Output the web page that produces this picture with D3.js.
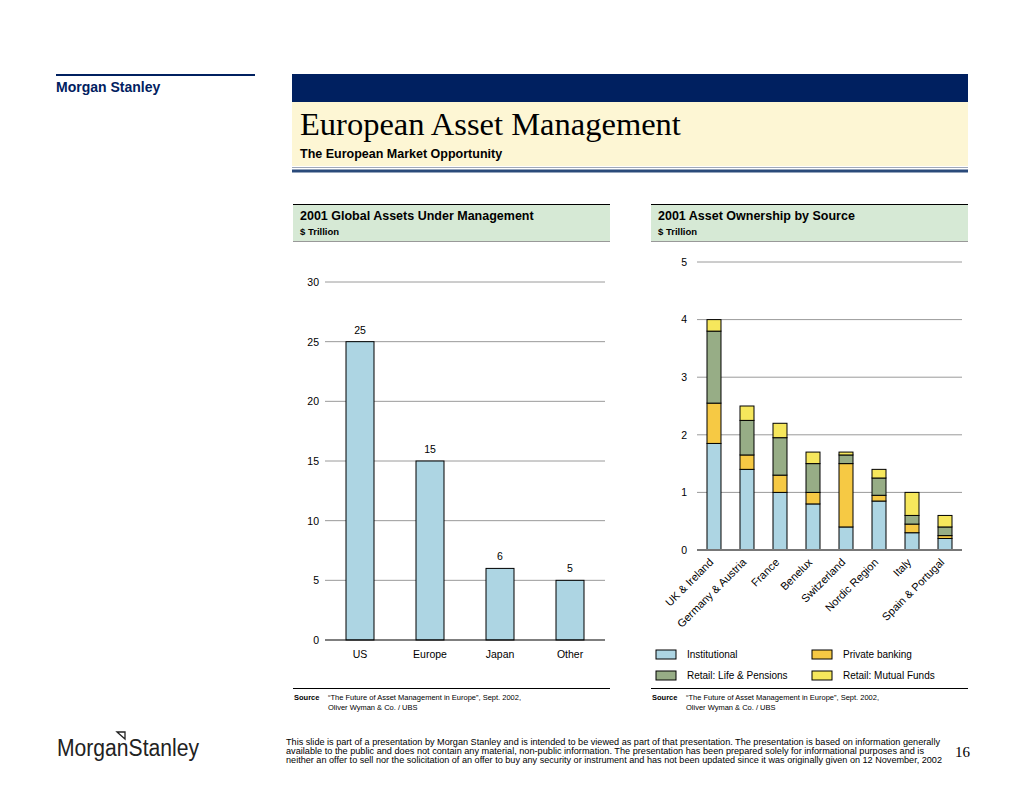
<!DOCTYPE html>
<html>
<head>
<meta charset="utf-8">
<script src="https://cdn.jsdelivr.net/npm/d3@7"></script>
<style>
  body { margin: 0; background: #fff; }
  text { font-family: "Liberation Sans", Arial, sans-serif; }
</style>
</head>
<body>
<div id="viz"></div>
<script>
// left chart data
var regions = ["US", "Europe", "Japan", "Other"];
var aum = [25, 15, 6, 5];
var leftTicks = [0, 5, 10, 15, 20, 25, 30];

// right chart data
var countries = ["UK & Ireland", "Germany & Austria", "France", "Benelux",
                 "Switzerland", "Nordic Region", "Italy", "Spain & Portugal"];
var sources = ["Institutional", "Private banking", "Retail: Life & Pensions", "Retail: Mutual Funds"];
var institutional = [1.85, 1.4, 1.0, 0.8, 0.4, 0.85, 0.3, 0.2];
var privateBanking = [0.7, 0.25, 0.3, 0.2, 1.1, 0.1, 0.15, 0.05];
var lifePensions = [1.25, 0.6, 0.65, 0.5, 0.15, 0.3, 0.15, 0.15];
var mutualFunds = [0.2, 0.25, 0.25, 0.2, 0.05, 0.15, 0.4, 0.2];
var rightTicks = [0, 1, 2, 3, 4, 5];

var navy = "#002060";
var colors = {
    "Institutional": "#add5e3",
    "Private banking": "#f6c944",
    "Retail: Life & Pensions": "#97ad86",
    "Retail: Mutual Funds": "#f6e75c"
};

var SVG = d3.select("#viz").append("svg")
        .attr("width", 1024)
        .attr("height", 791);

// ---- page furniture ----
SVG.append("line").attr("x1", 56).attr("x2", 255).attr("y1", 75).attr("y2", 75)
    .style("stroke", navy).style("stroke-width", 2);
SVG.append("text").attr("x", 56).attr("y", 92).text("Morgan Stanley")
    .style("font-weight", "bold").style("font-size", "14px").style("fill", navy);

SVG.append("rect").attr("x", 292).attr("y", 74).attr("width", 676).attr("height", 28)
    .style("fill", navy);
SVG.append("rect").attr("x", 292).attr("y", 102).attr("width", 676).attr("height", 64)
    .style("fill", "#fdf6d4");
SVG.append("text").attr("x", 300).attr("y", 135).text("European Asset Management")
    .style("font-family", "'Liberation Serif', 'Times New Roman', serif")
    .style("font-size", "32.5px").style("fill", "#000");
SVG.append("text").attr("x", 300).attr("y", 158).text("The European Market Opportunity")
    .style("font-weight", "bold").style("font-size", "12.5px");
SVG.append("line").attr("x1", 292).attr("x2", 968).attr("y1", 167.5).attr("y2", 167.5)
    .style("stroke", "#a0a8b8").style("stroke-width", 1);
SVG.append("line").attr("x1", 292).attr("x2", 968).attr("y1", 171).attr("y2", 171)
    .style("stroke", "#2a4a7a").style("stroke-width", 3);

function panelHeader(x, title) {
    SVG.append("rect").attr("x", x).attr("y", 205).attr("width", 317).attr("height", 36)
        .style("fill", "#d6e9d5");
    SVG.append("line").attr("x1", x).attr("x2", x + 317).attr("y1", 204.5).attr("y2", 204.5)
        .style("stroke", "#000").style("stroke-width", 1);
    SVG.append("line").attr("x1", x).attr("x2", x + 317).attr("y1", 241.5).attr("y2", 241.5)
        .style("stroke", "#999").style("stroke-width", 1);
    SVG.append("text").attr("x", x + 7).attr("y", 220).text(title)
        .style("font-weight", "bold").style("font-size", "12.5px");
    SVG.append("text").attr("x", x + 7).attr("y", 235).text("$ Trillion")
        .style("font-weight", "bold").style("font-size", "9.5px");
}
panelHeader(293, "2001 Global Assets Under Management");
panelHeader(651, "2001 Asset Ownership by Source");

function sourceNote(x) {
    SVG.append("line").attr("x1", x).attr("x2", x + 317).attr("y1", 688.5).attr("y2", 688.5)
        .style("stroke", "#000").style("stroke-width", 1);
    SVG.append("text").attr("x", x + 1).attr("y", 700).text("Source")
        .style("font-weight", "bold").style("font-size", "7.5px");
    SVG.append("text").attr("x", x + 35).attr("y", 700)
        .text("\u201CThe Future of Asset Management in Europe\u201D, Sept. 2002,")
        .style("font-size", "7.5px");
    SVG.append("text").attr("x", x + 35).attr("y", 710).text("Oliver Wyman & Co. / UBS")
        .style("font-size", "7.5px");
}
sourceNote(293);
sourceNote(651);

// ---- left chart ----
var xLeft = d3.scaleBand().domain(regions).range([325, 605])
        .paddingInner(0.6).paddingOuter(0.3);
var yLeft = d3.scaleLinear().domain([0, 30]).range([640, 282]);

SVG.append("g").selectAll("line").data(leftTicks.filter(function(d){ return d > 0; }))
    .enter().append("line")
    .attr("x1", 325).attr("x2", 605)
    .attr("y1", function(d){ return yLeft(d); }).attr("y2", function(d){ return yLeft(d); })
    .style("stroke", "#9a9a9a").style("stroke-width", 1);

var leftAxis = SVG.append("g").attr("transform", "translate(322,0)")
    .call(d3.axisLeft(yLeft).tickValues(leftTicks).tickSize(0).tickPadding(3));
leftAxis.select(".domain").remove();
leftAxis.selectAll("text").style("font-size", "10.5px").style("font-family", "'Liberation Sans', Arial, sans-serif");

SVG.selectAll(".barL").data(aum).enter().append("rect")
    .attr("class", "barL")
    .attr("x", function(d, i){ return xLeft(regions[i]); })
    .attr("y", function(d){ return yLeft(d); })
    .attr("width", xLeft.bandwidth())
    .attr("height", function(d){ return yLeft(0) - yLeft(d); })
    .style("fill", "#add5e3").style("stroke", "#000").style("stroke-width", 1);

SVG.selectAll(".valL").data(aum).enter().append("text")
    .attr("x", function(d, i){ return xLeft(regions[i]) + xLeft.bandwidth() / 2; })
    .attr("y", function(d){ return yLeft(d) - 8; })
    .attr("text-anchor", "middle")
    .text(function(d){ return d; })
    .style("font-size", "10.5px");

SVG.append("line").attr("x1", 325).attr("x2", 605)
    .attr("y1", yLeft(0)).attr("y2", yLeft(0))
    .style("stroke", "#000").style("stroke-width", 1.2);

var leftX = SVG.append("g").attr("transform", "translate(0," + yLeft(0) + ")")
    .call(d3.axisBottom(xLeft).tickSize(0).tickPadding(11));
leftX.select(".domain").remove();
leftX.selectAll("text").style("font-size", "10.5px").style("font-family", "'Liberation Sans', Arial, sans-serif");

// ---- right chart ----
var xRight = d3.scaleBand().domain(countries).range([697, 962])
        .paddingInner(0.576).paddingOuter(0.303);
var yRight = d3.scaleLinear().domain([0, 5]).range([550, 262]);

SVG.append("g").selectAll("line").data(rightTicks.filter(function(d){ return d > 0; }))
    .enter().append("line")
    .attr("x1", 697).attr("x2", 962)
    .attr("y1", function(d){ return yRight(d); }).attr("y2", function(d){ return yRight(d); })
    .style("stroke", "#9a9a9a").style("stroke-width", 1);

var rightAxis = SVG.append("g").attr("transform", "translate(691,0)")
    .call(d3.axisLeft(yRight).tickValues(rightTicks).tickFormat(d3.format("d"))
          .tickSize(0).tickPadding(4));
rightAxis.select(".domain").remove();
rightAxis.selectAll("text").style("font-size", "10.5px").style("font-family", "'Liberation Sans', Arial, sans-serif");

var table = countries.map(function(c, i) {
    return {
        country: c,
        "Institutional": institutional[i],
        "Private banking": privateBanking[i],
        "Retail: Life & Pensions": lifePensions[i],
        "Retail: Mutual Funds": mutualFunds[i]
    };
});
var stacked = d3.stack().keys(sources)(table);

SVG.append("g").selectAll("g").data(stacked).enter().append("g")
    .style("fill", function(d){ return colors[d.key]; })
    .selectAll("rect").data(function(d){ return d; }).enter().append("rect")
    .attr("x", function(d){ return xRight(d.data.country); })
    .attr("y", function(d){ return yRight(d[1]); })
    .attr("width", xRight.bandwidth())
    .attr("height", function(d){ return yRight(d[0]) - yRight(d[1]); })
    .style("stroke", "#000").style("stroke-width", 1);

SVG.append("line").attr("x1", 697).attr("x2", 962)
    .attr("y1", yRight(0)).attr("y2", yRight(0))
    .style("stroke", "#777").style("stroke-width", 2);

SVG.append("g").selectAll("text").data(countries).enter().append("text")
    .attr("transform", function(d){
        var cx = xRight(d) + xRight.bandwidth() / 2;
        return "translate(" + cx + "," + (yRight(0) + 13) + ") rotate(-45)";
    })
    .attr("text-anchor", "end")
    .text(function(d){ return d; })
    .style("font-size", "11px");

// legend
var legendPos = [[656, 650], [812, 650], [656, 671], [812, 671]];
var legendOrder = ["Institutional", "Private banking", "Retail: Life & Pensions", "Retail: Mutual Funds"];
legendOrder.forEach(function(k, i) {
    var p = legendPos[i];
    SVG.append("rect").attr("x", p[0]).attr("y", p[1]).attr("width", 20).attr("height", 9)
        .style("fill", colors[k]).style("stroke", "#000").style("stroke-width", 1);
    SVG.append("text").attr("x", p[0] + 31).attr("y", p[1] + 8).text(k)
        .style("font-size", "10px");
});

// ---- footer ----
SVG.append("text").attr("x", 57).attr("y", 756).text("MorganStanley")
    .attr("textLength", 142).attr("lengthAdjust", "spacingAndGlyphs")
    .style("font-size", "23px").style("fill", "#222");
SVG.append("path").attr("d", "M117,732 L125,732 L125,739 Z M117,732 L125,739")
    .style("fill", "none").style("stroke", "#222").style("stroke-width", 1.3);

var disclaimer = [
    "This slide is part of a presentation by Morgan Stanley and is intended to be viewed as part of that presentation.  The presentation is based on information generally",
    "available to the public and does not contain any material, non-public information.  The presentation has been prepared solely for informational purposes and is",
    "neither an offer to sell nor the solicitation of an offer to buy any security or instrument and has not been updated since it was originally given on 12 November, 2002"
];
var disclaimerWidth = [654, 638, 656];
SVG.append("g").selectAll("text").data(disclaimer).enter().append("text")
    .attr("x", 286).attr("y", function(d, i){ return 745 + i * 9; })
    .text(function(d){ return d; })
    .attr("textLength", function(d, i){ return disclaimerWidth[i]; })
    .attr("lengthAdjust", "spacingAndGlyphs")
    .style("font-size", "8.2px");

SVG.append("text").attr("x", 955).attr("y", 757).text("16")
    .style("font-family", "'Liberation Serif', 'Times New Roman', serif")
    .style("font-size", "15px");
</script>
</body>
</html>
